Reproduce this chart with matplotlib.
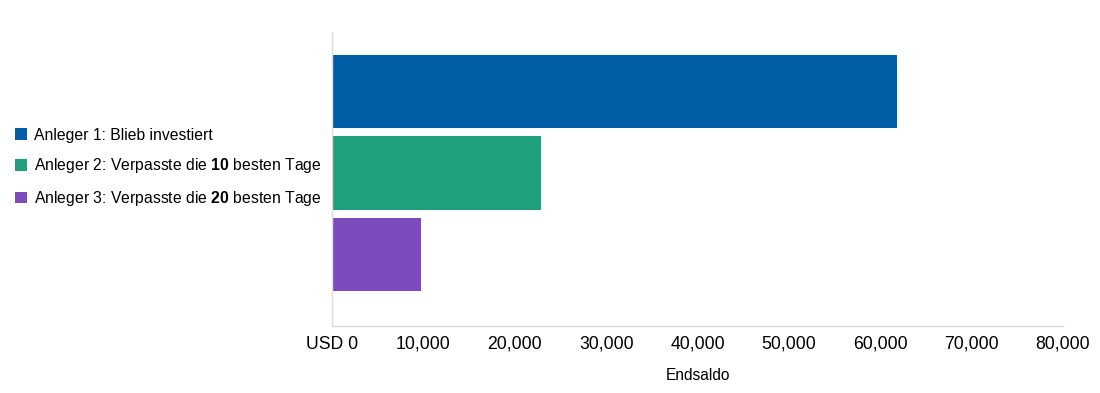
import matplotlib.pyplot as plt
import numpy as np

plt.rcParams['font.family'] = ['Liberation Sans', 'DejaVu Sans']
plt.rcParams['mathtext.fontset'] = 'custom'
plt.rcParams['mathtext.rm'] = 'Liberation Sans'
plt.rcParams['mathtext.bf'] = 'Liberation Sans:bold'

labels = ['Anleger 1: Blieb investiert',
          r'Anleger 2: Verpasste die $\mathbf{10}$ besten Tage',
          r'Anleger 3: Verpasste die $\mathbf{20}$ besten Tage']
werte = [61800, 22900, 9700]
farben = ['#005EA7', '#21A07D', '#7C4CBE']
ticks = [0, 10000, 20000, 30000, 40000, 50000, 60000, 70000, 80000]
tick_labels = ['USD 0', '10,000', '20,000', '30,000', '40,000',
               '50,000', '60,000', '70,000', '80,000']

fig = plt.figure(figsize=(11, 3.93), dpi=100)
ax = fig.add_axes([0.3018, 0.170, 0.6646, 0.749])

for i in range(3):
    ax.barh(i, werte[i], height=0.9, color=farben[i], label=labels[i])

ax.set_ylim(2.877, -0.73)
ax.set_xlim(0, 80000)
ax.set_yticks([])
ax.set_xticks(ticks)
ax.set_xticklabels(tick_labels, fontsize=12.7)
ax.tick_params(axis='x', length=0, pad=7)
ax.set_xlabel('Endsaldo', fontsize=11.2, labelpad=11)

for s in ['top', 'right']:
    ax.spines[s].set_visible(False)
for s in ['left', 'bottom']:
    ax.spines[s].set_color('#dddddd')
    ax.spines[s].set_linewidth(1)

fig.legend(loc='center left', bbox_to_anchor=(0.014, 0.573), frameon=False,
           fontsize=11.3, handlelength=0.75, handleheight=0.75,
           handletextpad=0.45, labelspacing=0.87, borderaxespad=0, borderpad=0)

fig.savefig('out.png', dpi=100)
